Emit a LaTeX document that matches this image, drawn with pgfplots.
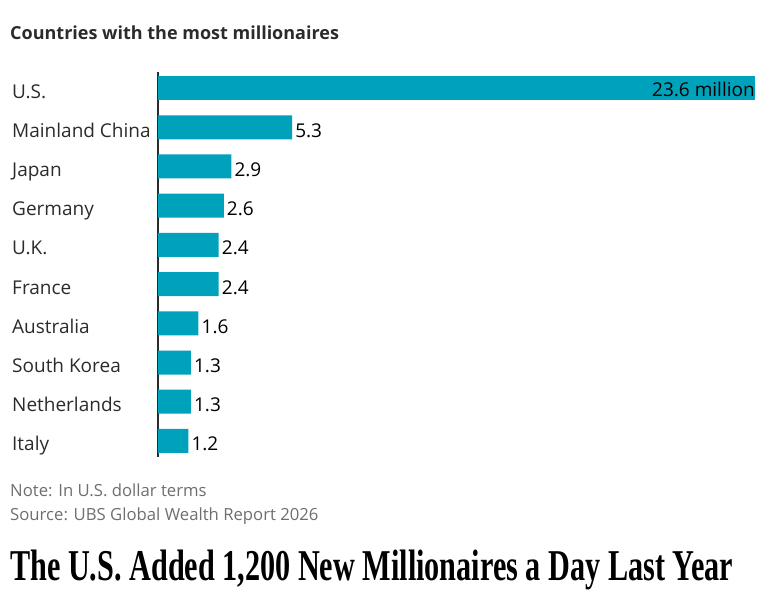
\documentclass[border=0pt]{standalone}
\usepackage{pgfplots}
\pgfplotsset{compat=1.18}
\usepackage{pgfplotstable}
\usepackage{graphicx}
\usepackage{fontspec}
\setmainfont{Open Sans}
\newfontfamily\headfont{Liberation Serif}
\definecolor{bar}{HTML}{00A2BB}
\definecolor{lab}{HTML}{2B2B2B}
\definecolor{note}{HTML}{6E6E6E}
\pgfplotstableread{
x y lab
5.3 8 5.3
2.9 7 2.9
2.6 6 2.6
2.4 5 2.4
2.4 4 2.4
1.6 3 1.6
1.3 2 1.3
1.3 1 1.3
1.2 0 1.2
}\others
\pgfplotstableread{
x y lab
23.6 9 {23.6 million}
}\us
\begin{document}
\begin{tikzpicture}
\path (0,0) rectangle (768bp,595bp);
\begin{axis}[
  at={(158bp,138bp)}, anchor=south west,
  scale only axis, width=597bp, height=385bp,
  xmin=0, xmax=23.6, ymin=-0.41, ymax=9.41,
  axis x line=none,
  axis y line*=left,
  y axis line style={draw=lab, line width=1.3bp, -},
  xtick=\empty,
  ytick={0,...,9},
  yticklabels={Italy,Netherlands,South Korea,Australia,France,U.K.,Germany,Japan,Mainland China,U.S.},
  yticklabel style={anchor=base west, inner sep=0pt, xshift=-146bp, yshift=-10bp, font=\fontsize{19bp}{22bp}\selectfont, text=lab},
  major tick length=0pt,
  xbar, bar width=24bp, bar shift=0pt,
  clip=false,
  point meta=explicit symbolic,
  nodes near coords,
  nodes near coords style={font=\fontsize{19bp}{22bp}\selectfont, text=black, inner sep=0pt, anchor=base west, xshift=3bp, yshift=-10bp},
]
\addplot[fill=bar, draw=none] table[x=x, y=y, meta=lab] {\others};
\addplot[fill=bar, draw=none, nodes near coords style={anchor=base east, xshift=-3bp, yshift=2bp}] table[x=x, y=y, meta=lab] {\us};
\end{axis}
\node[anchor=base west, inner sep=0pt, text=lab] at (10bp,555bp) {\fontsize{18bp}{21bp}\selectfont\bfseries Countries with the most millionaires};
\node[anchor=base west, inner sep=0pt, text=note] at (10bp,98bp) {\fontsize{16.7bp}{19bp}\selectfont Note: In U.S. dollar terms};
\node[anchor=base west, inner sep=0pt, text=note] at (10bp,74bp) {\fontsize{16.7bp}{19bp}\selectfont Source: UBS Global Wealth Report 2026};
\node[anchor=base west, inner sep=0pt, text=black] at (10bp,14bp) {\resizebox{723bp}{\height}{\headfont\fontsize{44bp}{50bp}\selectfont\bfseries The U.S. Added 1,200 New Millionaires a Day Last Year}};
\end{tikzpicture}
\end{document}
